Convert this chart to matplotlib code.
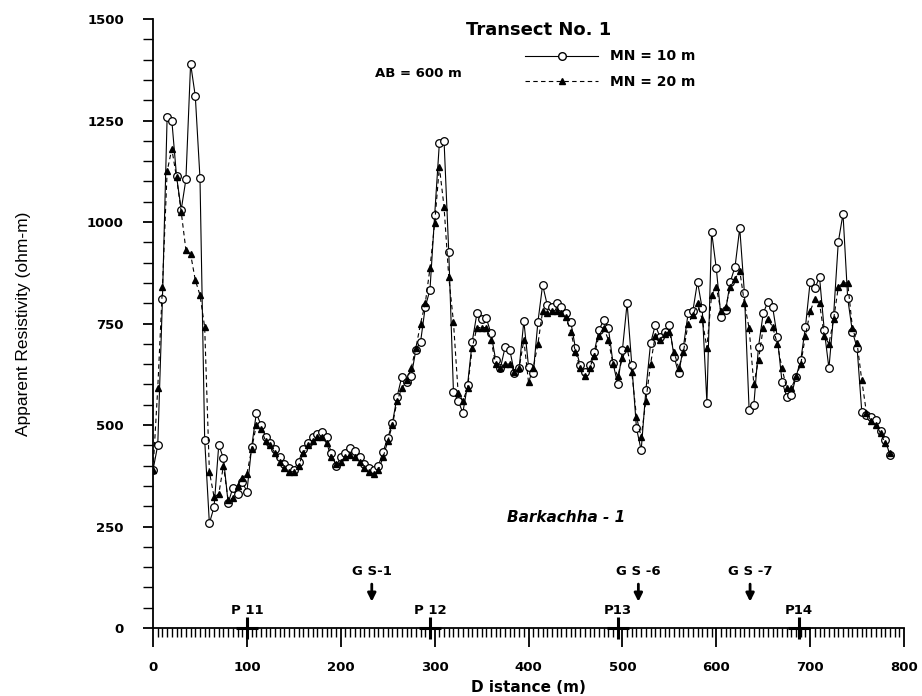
import numpy as np
import matplotlib
matplotlib.use('Agg')
import matplotlib.pyplot as plt
from matplotlib.lines import Line2D
from matplotlib.ticker import MultipleLocator

# Stationen (m) und scheinbarer Widerstand (ohm-m)
distance = np.arange(0, 790, 5)

rho_mn10 = [390, 450, 810, 1259, 1250, 1113, 1030, 1105, 1390, 1310,
            1108, 463, 258, 298, 451, 418, 308, 345, 330, 360,
            336, 445, 529, 500, 470, 455, 440, 420, 405, 395,
            390, 410, 440, 455, 470, 478, 483, 470, 430, 399,
            420, 430, 443, 435, 420, 405, 395, 389, 400, 434,
            468, 505, 570, 619, 607, 620, 685, 705, 791, 833,
            1017, 1194, 1200, 927, 582, 560, 530, 598, 705, 775,
            760, 763, 726, 660, 640, 691, 685, 628, 640, 756,
            644, 627, 754, 845, 795, 790, 800, 790, 775, 754,
            689, 648, 631, 648, 680, 734, 758, 740, 652, 601,
            685, 800, 648, 492, 438, 586, 701, 746, 717, 730,
            746, 668, 627, 693, 775, 780, 853, 787, 555, 976,
            886, 767, 783, 853, 890, 985, 824, 537, 549, 693,
            775, 804, 791, 717, 607, 570, 574, 619, 660, 742,
            853, 837, 864, 734, 640, 771, 951, 1020, 812, 730,
            690, 533, 525, 520, 512, 484, 463, 426]

rho_mn20 = [390, 590, 840, 1125, 1180, 1110, 1025, 931, 921, 857,
            820, 741, 385, 323, 330, 400, 315, 320, 350, 370,
            380, 440, 500, 490, 460, 450, 430, 410, 395, 385,
            385, 400, 430, 450, 460, 470, 470, 455, 420, 405,
            410, 420, 425, 420, 410, 395, 385, 380, 390, 420,
            460, 500, 560, 590, 610, 640, 690, 750, 800, 886,
            997, 1136, 1037, 865, 754, 580, 560, 590, 690, 740,
            740, 740, 710, 650, 640, 650, 650, 630, 640, 710,
            605, 640, 700, 780, 775, 780, 780, 775, 765, 730,
            680, 640, 620, 640, 670, 720, 740, 710, 650, 620,
            665, 690, 630, 520, 470, 560, 650, 720, 710, 725,
            730, 680, 640, 680, 750, 770, 800, 760, 690, 820,
            840, 780, 790, 840, 860, 880, 800, 738, 600, 660,
            740, 760, 742, 700, 640, 590, 590, 620, 650, 720,
            780, 810, 800, 720, 700, 760, 840, 850, 850, 740,
            701, 610, 530, 510, 500, 480, 455, 430]

# Profile und Bohrungen entlang des Transekts
profile_names = ['P 11', 'P 12', 'P13', 'P14']
profile_x = [100, 295, 495, 688]
gs_names = ['G S-1', 'G S -6', 'G S -7']
gs_x = [233, 517, 636]

bold = dict(family='DejaVu Sans', fontweight='bold')

fig = plt.figure(figsize=(9.22, 6.96), dpi=100)
ax = fig.add_axes([0.166, 0.0977, 0.8145, 0.875])

ax.plot(distance, rho_mn10, '-', color='k', lw=0.8, marker='o', ms=5.5,
        mfc='white', mec='k', mew=0.9)
ax.plot(distance, rho_mn20, '--', color='k', lw=0.8, marker='^', ms=4,
        mfc='k', mec='k', dashes=(4, 3))

ax.set_xlim(0, 800)
ax.set_ylim(0, 1500)
ax.spines['top'].set_visible(False)
ax.spines['right'].set_visible(False)
ax.spines['left'].set_linewidth(1.3)
ax.spines['bottom'].set_linewidth(1.3)

ax.xaxis.set_major_locator(MultipleLocator(100))
ax.xaxis.set_minor_locator(MultipleLocator(5))
ax.yaxis.set_major_locator(MultipleLocator(250))
ax.yaxis.set_minor_locator(MultipleLocator(50))
ax.tick_params(axis='x', which='major', length=14, width=1.3, direction='out', pad=10)
ax.tick_params(axis='x', which='minor', length=6.5, width=1.0, direction='out')
ax.tick_params(axis='y', which='major', length=7, width=1.3, direction='out', pad=14)
ax.tick_params(axis='y', which='minor', length=7, width=1.0, direction='out')
for lab in ax.get_xticklabels() + ax.get_yticklabels():
    lab.set_fontfamily('DejaVu Sans')
    lab.set_fontweight('bold')
    lab.set_fontsize(9.5)

ax.set_xlabel('D istance (m)', fontsize=11, labelpad=4, **bold)
ax.set_ylabel('Apparent Resistivity (ohm-m)', fontsize=12.5,
              family='Liberation Sans', labelpad=40)

ax.text(0.513, 0.982, 'Transect No. 1', transform=ax.transAxes, ha='center',
        va='center', fontsize=13, **bold)
ax.text(0.295, 0.911, 'AB = 600 m', transform=ax.transAxes, ha='left',
        va='center', fontsize=9.5, **bold)
ax.text(0.55, 0.182, 'Barkachha - 1', transform=ax.transAxes, ha='center',
        va='center', fontsize=11, style='italic', **bold)

handles = [Line2D([], [], color='k', lw=0.8, marker='o', ms=5.5, mfc='white', mec='k'),
           Line2D([], [], color='k', lw=0.8, ls='--', dashes=(4, 3), marker='^',
                  ms=4, mfc='k', mec='k')]
leg = ax.legend(handles, ['MN = 10 m', 'MN = 20 m'], loc='upper left',
                bbox_to_anchor=(0.495, 0.95), frameon=False, borderpad=0,
                borderaxespad=0, handlelength=5.3, handletextpad=0.8,
                labelspacing=0.8, prop=dict(family='DejaVu Sans', weight='bold', size=10))

for name, x in zip(profile_names, profile_x):
    ax.plot(x, 0, marker='+', ms=16, mew=2.2, color='k', clip_on=False)
    ax.text(x, 44, name, ha='center', va='center', fontsize=9.5, **bold)

for name, x in zip(gs_names, gs_x):
    ax.annotate('', xy=(x, 58), xytext=(x, 115),
                arrowprops=dict(arrowstyle='-|>', lw=2, color='k', mutation_scale=12))
    ax.text(x, 140, name, ha='center', va='center', fontsize=9.5, **bold)

fig.savefig('out.png', dpi=100)
